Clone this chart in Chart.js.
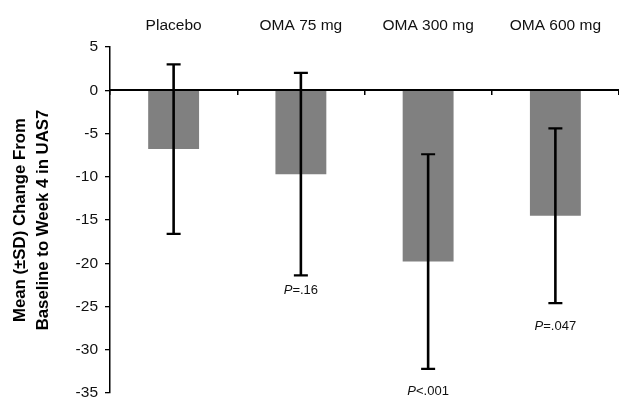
<!DOCTYPE html>
<html>
<head>
<meta charset="utf-8">
<style>
	html, body { margin: 0; padding: 0; background: #fff; overflow: hidden; }
	#wrap { width: 619px; height: 398px; }
</style>
<script src="https://cdn.jsdelivr.net/npm/chart.js@4/dist/chart.umd.min.js"></script>
</head>
<body>
<div id="wrap"><canvas id="chart"></canvas></div>
<script>
'use strict';

const categories = ['Placebo', 'OMA 75 mg', 'OMA 300 mg', 'OMA 600 mg'];
const meanChange = [-6.8, -9.7, -19.8, -14.5];
const sdChange = [9.8, 11.7, 12.4, 10.1];
const pLabels = ['', '=.16', '<.001', '=.047'];
const yTitle = ['Mean (\u00B1SD) Change From', 'Baseline to Week 4 in UAS7'];
const yMin = -35;
const yMax = 5;
const yStep = 5;

const FONT = '"Liberation Sans", Arial, sans-serif';

/**
 * Draws the SD whiskers and the P value notes under them
 */
const errorBars = {
	id: 'errorBars',
	afterDatasetsDraw(chart, args, opts) {
		const ctx = chart.ctx;
		const x = chart.scales.x;
		const y = chart.scales.y;
		ctx.save();
		ctx.strokeStyle = '#000';
		for (let i = 0; i < meanChange.length; i++) {
			const cx = x.getPixelForValue(i);
			const top = y.getPixelForValue(meanChange[i] + sdChange[i]);
			const bottom = y.getPixelForValue(meanChange[i] - sdChange[i]);
			ctx.lineWidth = 2.6;
			ctx.beginPath();
			ctx.moveTo(cx, top);
			ctx.lineTo(cx, bottom);
			ctx.stroke();
			ctx.lineWidth = 2.2;
			ctx.beginPath();
			ctx.moveTo(cx - opts.cap, top);
			ctx.lineTo(cx + opts.cap, top);
			ctx.moveTo(cx - opts.cap, bottom);
			ctx.lineTo(cx + opts.cap, bottom);
			ctx.stroke();

			if (pLabels[i]) {
				const ly = bottom + opts.noteOffsets[i];
				ctx.fillStyle = '#111';
				ctx.textBaseline = 'middle';
				ctx.textAlign = 'left';
				ctx.font = 'italic 13px ' + FONT;
				const wp = ctx.measureText('P').width;
				ctx.font = '13px ' + FONT;
				const wr = ctx.measureText(pLabels[i]).width;
				const start = cx - (wp + wr) / 2;
				ctx.font = 'italic 13px ' + FONT;
				ctx.fillText('P', start, ly);
				ctx.font = '13px ' + FONT;
				ctx.fillText(pLabels[i], start + wp, ly);
			}
		}
		ctx.restore();
	}
};

function createChart(canvas) {
	return new Chart(canvas, {
		type: 'bar',
		data: {
			labels: categories,
			datasets: [{
				data: meanChange,
				backgroundColor: '#808080',
				borderWidth: 0,
				barPercentage: 0.4,
				categoryPercentage: 1.0,
				xAxisID: 'x',
				yAxisID: 'y'
			}]
		},
		options: {
			responsive: true,
			maintainAspectRatio: false,
			animation: false,
			layout: { padding: { left: 0, right: 0, top: 0, bottom: 0 } },
			plugins: {
				legend: { display: false },
				tooltip: { enabled: false },
				errorBars: { cap: 7, noteOffsets: [0, 15, 23, 23] }
			},
			scales: {
				x: {
					type: 'category',
					position: 'top',
					offset: true,
					grid: { display: false, drawTicks: false },
					border: { display: false },
					ticks: {
						color: '#111',
						padding: 12,
						font: { family: FONT, size: 15.5 }
					},
					afterFit(scale) { scale.height = 47; }
				},
				xz: {
					type: 'category',
					labels: categories,
					position: { y: 0 },
					offset: true,
					z: 1,
					grid: {
						offset: true,
						drawOnChartArea: false,
						drawTicks: true,
						tickLength: 4,
						color: '#000',
						lineWidth: 1.5
					},
					border: { display: true, color: '#000', width: 2 },
					ticks: { display: false }
				},
				y: {
					min: yMin,
					max: yMax,
					position: 'left',
					grid: {
						drawOnChartArea: false,
						drawTicks: true,
						tickLength: 5,
						color: '#000',
						lineWidth: 1.3
					},
					border: { display: true, color: '#000', width: 1.5 },
					ticks: {
						stepSize: yStep,
						color: '#111',
						padding: 7,
						font: { family: FONT, size: 15.5 }
					},
					title: {
						display: true,
						text: yTitle,
						color: '#000',
						padding: { top: 8, bottom: 0 },
						font: { family: FONT, size: 16.8, weight: 'bold', lineHeight: 1.42 }
					},
					afterFit(scale) {
						scale.width = 110;
						scale.paddingBottom = 5;
					}
				}
			}
		},
		plugins: [errorBars]
	});
}

createChart(document.getElementById('chart'));
</script>
</body>
</html>
